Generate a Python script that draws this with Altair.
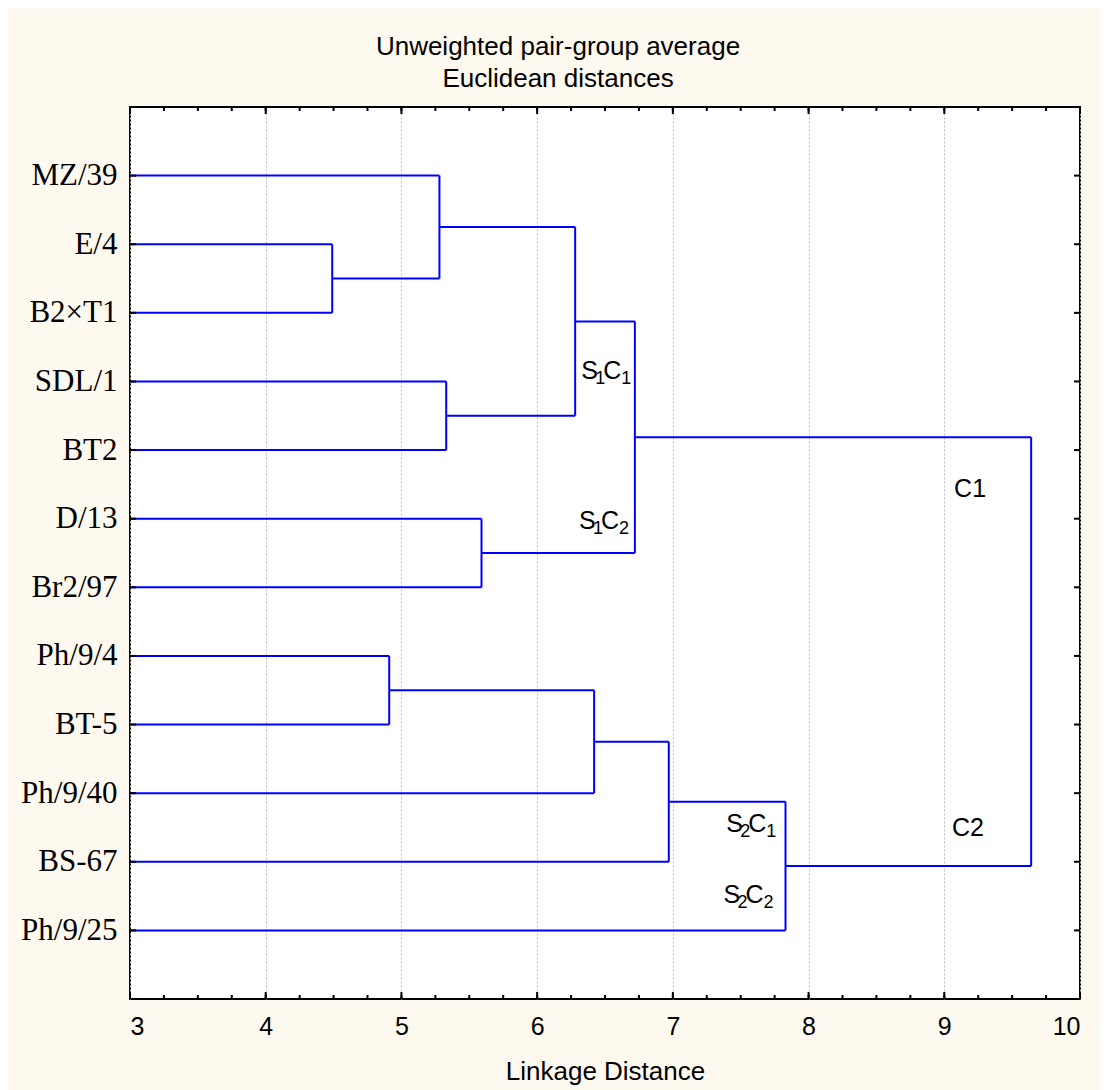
import json
import altair as alt
import pandas as pd

# ---------------- data ----------------
leaf_names = ["MZ/39", "E/4", "B2×T1", "SDL/1", "BT2", "D/13", "Br2/97",
              "Ph/9/4", "BT-5", "Ph/9/40", "BS-67", "Ph/9/25"]

# merges: new cluster ids start at 12 (like a linkage matrix)
merge_left = [1, 0, 3, 13, 5, 15, 7, 18, 19, 20, 17]
merge_right = [2, 12, 4, 14, 6, 16, 8, 9, 10, 11, 21]
merge_height = [4.49, 5.28, 5.33, 6.28, 5.59, 6.72, 4.91, 6.42, 6.97, 7.83, 9.64]

x_major = [3, 4, 5, 6, 7, 8, 9, 10]
x_minor = [3 + 0.25 * k for k in range(29)]
leaf_pos = list(range(1, 13))

# sub-cluster labels  S<sub>C<sub>  (left edge x, baseline y in data units)
sub_main1 = ["S", "S", "S", "S"]
sub_idx1 = ["1", "1", "2", "2"]
sub_main2 = ["C", "C", "C", "C"]
sub_idx2 = ["1", "2", "1", "2"]
sub_x = [6.325, 6.308, 7.393, 7.373]
sub_y = [3.96, 6.15, 10.57, 11.60]

# cluster labels (centre x, baseline y)
clu_text = ["C1", "C2"]
clu_x = [9.19, 9.175]
clu_y = [5.69, 10.63]

title_lines = ["Unweighted pair-group average", "Euclidean distances"]
x_title = "Linkage Distance"

# ---------------- build dendrogram segments ----------------
X_MIN, X_MAX = 3, 10
pos = {i: (X_MIN, i + 1) for i in range(len(leaf_names))}
segs = []
for k, (a, b, h) in enumerate(zip(merge_left, merge_right, merge_height)):
    xa, ya = pos[a]
    xb, yb = pos[b]
    segs.append({"x": xa, "x2": h, "y": ya, "y2": ya})
    segs.append({"x": xb, "x2": h, "y": yb, "y2": yb})
    segs.append({"x": h, "x2": h, "y": ya, "y2": yb})
    pos[12 + k] = (h, (ya + yb) / 2)
seg_df = pd.DataFrame(segs)

W, H = 950, 892

xscale = alt.Scale(domain=[X_MIN, X_MAX], nice=False, zero=False)
yscale = alt.Scale(domain=[0, 13], nice=False, zero=False, reverse=True)

xaxis = alt.Axis(values=x_major, title=x_title, ticks=False, domain=False,
                 grid=True, gridColor="#bdbdbd", gridDash=[2, 2], gridWidth=1,
                 labelFont="Liberation Sans", labelFontSize=25, labelColor="black",
                 labelPadding=15, titleFont="Liberation Sans", titleFontSize=26,
                 titleFontWeight="normal", titleColor="black", titlePadding=19)
label_expr = json.dumps(leaf_names) + "[datum.value - 1]"
yaxis = alt.Axis(values=leaf_pos, labelExpr=label_expr, title=None, ticks=False,
                 domain=False, grid=False, labelFont="Liberation Serif",
                 labelFontSize=31, labelColor="black", labelPadding=13,
                 labelBaseline="middle")


def X(f):
    return alt.X(f, type="quantitative", scale=xscale, axis=xaxis)


def Y(f):
    return alt.Y(f, type="quantitative", scale=yscale, axis=yaxis)


blue = "#0000ff"

segments = alt.Chart(seg_df).mark_rule(color=blue, strokeWidth=2).encode(
    x=X("x"), x2="x2", y=Y("y"), y2="y2"
)

minor_df = pd.DataFrame({"v": x_minor})
major_df = pd.DataFrame({"v": x_major})
leaf_df = pd.DataFrame({"p": leaf_pos})

tick_style = dict(color="black", strokeWidth=2)
bot_minor = alt.Chart(minor_df).mark_rule(**tick_style).encode(
    x=X("v"), y=alt.value(H), y2=alt.value(H - 4))
bot_major = alt.Chart(major_df).mark_rule(**tick_style).encode(
    x=X("v"), y=alt.value(H), y2=alt.value(H - 7))
top_minor = alt.Chart(minor_df).mark_rule(**tick_style).encode(
    x=X("v"), y=alt.value(0), y2=alt.value(4))
top_major = alt.Chart(major_df).mark_rule(**tick_style).encode(
    x=X("v"), y=alt.value(0), y2=alt.value(7))
left_ticks = alt.Chart(leaf_df).mark_rule(**tick_style).encode(
    y=Y("p"), x=alt.value(0), x2=alt.value(6))
right_ticks = alt.Chart(leaf_df).mark_rule(**tick_style).encode(
    y=Y("p"), x=alt.value(W), x2=alt.value(W - 6))

sub_df = pd.DataFrame({"m1": sub_main1, "i1": sub_idx1, "m2": sub_main2,
                       "i2": sub_idx2, "x": sub_x, "y": sub_y})
big = dict(font="Liberation Sans", fontSize=25, color="black", align="left",
           baseline="alphabetic")
small = dict(font="Liberation Sans", fontSize=18, color="black", align="left",
             baseline="alphabetic")
base_sub = alt.Chart(sub_df)
s_main1 = base_sub.mark_text(dx=0, **big).encode(x=X("x"), y=Y("y"), text="m1:N")
s_idx1 = base_sub.mark_text(dx=14, dy=5, **small).encode(x=X("x"), y=Y("y"), text="i1:N")
s_main2 = base_sub.mark_text(dx=22, **big).encode(x=X("x"), y=Y("y"), text="m2:N")
s_idx2 = base_sub.mark_text(dx=40, dy=5, **small).encode(x=X("x"), y=Y("y"), text="i2:N")

clu_df = pd.DataFrame({"t": clu_text, "x": clu_x, "y": clu_y})
clu = alt.Chart(clu_df).mark_text(font="Liberation Sans", fontSize=25, color="black",
                                  align="center", baseline="alphabetic").encode(
    x=X("x"), y=Y("y"), text="t:N")

chart = alt.layer(
    segments, bot_minor, bot_major, top_minor, top_major, left_ticks, right_ticks,
    s_main1, s_idx1, s_main2, s_idx2, clu
).properties(
    width=W, height=H,
    autosize=alt.AutoSizeParams(type="none"),
    padding={"left": 122, "top": 99, "right": 20, "bottom": 91},
    background="#fef9ef",
    title=alt.TitleParams(text=title_lines, fontSize=26, font="Liberation Sans",
                          fontWeight="normal", color="black", anchor="middle",
                          frame="group", dx=-47, dy=27, offset=15, lineHeight=32,
                          baseline="bottom"),
).configure_view(
    fill="white", stroke="black", strokeWidth=2
)

chart.save("out.html", embed_options={"renderer": "svg", "actions": False})
